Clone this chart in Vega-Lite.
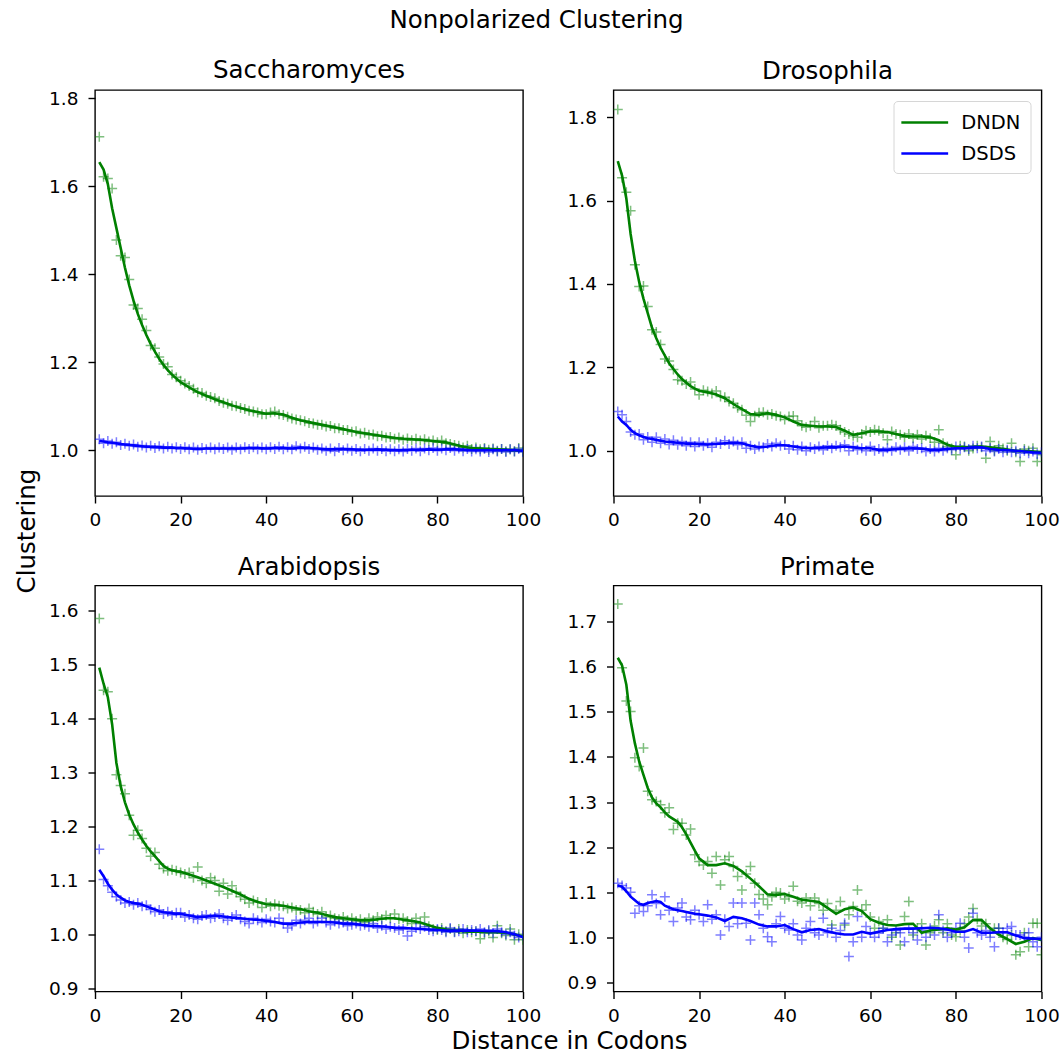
{
"$schema":"https://vega.github.io/schema/vega-lite/v6.json",
"padding":{"left":13,"top":7,"right":0,"bottom":0},
"background":"white",
"title":{"text":"Nonpolarized Clustering","fontSize":24.5,"font":"DejaVu Sans","fontWeight":"normal","color":"black","anchor":"middle","frame":"bounds","baseline":"top","offset":24.5},
"datasets":{
"sac":[
{"x":1,"dn":1.713,"ds":1.025,"ln":1.655,"ls":1.021},{"x":2,"dn":1.622,"ds":1.016,"ln":1.638,"ls":1.02},{"x":3,"dn":1.618,"ds":1.021,"ln":1.605,"ls":1.018},{"x":4,"dn":1.595,"ds":1.015,"ln":1.55,"ls":1.017},{"x":5,"dn":1.478,"ds":1.018,"ln":1.505,"ls":1.016},{"x":6,"dn":1.442,"ds":1.012,"ln":1.46,"ls":1.014},{"x":7,"dn":1.438,"ds":1.015,"ln":1.415,"ls":1.013},{"x":8,"dn":1.388,"ds":1.01,"ln":1.375,"ls":1.012},{"x":9,"dn":1.33,"ds":1.013,"ln":1.34,"ls":1.011},{"x":10,"dn":1.322,"ds":1.008,"ln":1.31,"ls":1.01},
{"x":11,"dn":1.298,"ds":1.011,"ln":1.285,"ls":1.009},{"x":12,"dn":1.272,"ds":1.006,"ln":1.262,"ls":1.008},{"x":13,"dn":1.238,"ds":1.01,"ln":1.242,"ls":1.008},{"x":14,"dn":1.232,"ds":1.005,"ln":1.224,"ls":1.007},{"x":15,"dn":1.212,"ds":1.009,"ln":1.208,"ls":1.007},{"x":16,"dn":1.196,"ds":1.004,"ln":1.194,"ls":1.006},{"x":17,"dn":1.19,"ds":1.008,"ln":1.182,"ls":1.006},{"x":18,"dn":1.172,"ds":1.004,"ln":1.172,"ls":1.006},{"x":19,"dn":1.166,"ds":1.007,"ln":1.163,"ls":1.005},{"x":20,"dn":1.158,"ds":1.003,"ln":1.155,"ls":1.005},
{"x":21,"dn":1.152,"ds":1.007},{"x":22,"dn":1.146,"ds":1.002,"ln":1.143,"ls":1.004},{"x":23,"dn":1.14,"ds":1.006},{"x":24,"dn":1.132,"ds":1.001,"ln":1.132,"ls":1.003},{"x":25,"dn":1.13,"ds":1.005},{"x":26,"dn":1.124,"ds":1.002,"ln":1.124,"ls":1.004},{"x":27,"dn":1.121,"ds":1.006},{"x":28,"dn":1.118,"ds":1.002,"ln":1.116,"ls":1.004},{"x":29,"dn":1.112,"ds":1.006},{"x":30,"dn":1.108,"ds":1.003,"ln":1.109,"ls":1.004},
{"x":31,"dn":1.106,"ds":1.006},{"x":32,"dn":1.101,"ds":1.001,"ln":1.102,"ls":1.004},{"x":33,"dn":1.1,"ds":1.006},{"x":34,"dn":1.096,"ds":1.002,"ln":1.096,"ls":1.004},{"x":35,"dn":1.094,"ds":1.007},{"x":36,"dn":1.09,"ds":1.003,"ln":1.091,"ls":1.005},{"x":37,"dn":1.088,"ds":1.007},{"x":38,"dn":1.086,"ds":1.002,"ln":1.087,"ls":1.005},{"x":39,"dn":1.082,"ds":1.006},{"x":40,"dn":1.082,"ds":1.002,"ln":1.083,"ls":1.004},
{"x":41,"dn":1.086,"ds":1.007},{"x":42,"dn":1.088,"ds":1.003,"ln":1.084,"ls":1.005},{"x":43,"dn":1.082,"ds":1.008},{"x":44,"dn":1.08,"ds":1.002,"ln":1.081,"ls":1.005},{"x":45,"dn":1.076,"ds":1.007},{"x":46,"dn":1.072,"ds":1.002,"ln":1.074,"ls":1.004},{"x":47,"dn":1.07,"ds":1.009},{"x":48,"dn":1.068,"ds":1.004,"ln":1.068,"ls":1.006},{"x":49,"dn":1.066,"ds":1.008},{"x":50,"dn":1.062,"ds":1.003,"ln":1.064,"ls":1.005},
{"x":51,"dn":1.061,"ds":1.006},{"x":52,"dn":1.058,"ds":1.001,"ln":1.06,"ls":1.004},{"x":53,"dn":1.058,"ds":1.004},{"x":54,"dn":1.054,"ds":0.999,"ln":1.056,"ls":1.002},{"x":55,"dn":1.055,"ds":1.004},{"x":56,"dn":1.05,"ds":0.998,"ln":1.052,"ls":1.002},{"x":57,"dn":1.05,"ds":1.005},{"x":58,"dn":1.046,"ds":1.0,"ln":1.048,"ls":1.003},{"x":59,"dn":1.046,"ds":1.004},{"x":60,"dn":1.042,"ds":0.999,"ln":1.044,"ls":1.002},
{"x":61,"dn":1.043,"ds":1.003},{"x":62,"dn":1.038,"ds":0.998,"ln":1.04,"ls":1.001},{"x":63,"dn":1.04,"ds":1.003},{"x":64,"dn":1.035,"ds":0.999,"ln":1.037,"ls":1.001},{"x":65,"dn":1.036,"ds":1.004},{"x":66,"dn":1.032,"ds":0.999,"ln":1.034,"ls":1.002},{"x":67,"dn":1.033,"ds":1.003},{"x":68,"dn":1.029,"ds":0.998,"ln":1.031,"ls":1.001},{"x":69,"dn":1.03,"ds":1.002},{"x":70,"dn":1.026,"ds":0.998,"ln":1.028,"ls":1.0},
{"x":71,"dn":1.029,"ds":1.002},{"x":72,"dn":1.024,"ds":0.997,"ln":1.026,"ls":1.0},{"x":73,"dn":1.027,"ds":1.003},{"x":74,"dn":1.023,"ds":0.999,"ln":1.025,"ls":1.001},{"x":75,"dn":1.026,"ds":1.004},{"x":76,"dn":1.022,"ds":0.998,"ln":1.024,"ls":1.001},{"x":77,"dn":1.025,"ds":1.004},{"x":78,"dn":1.02,"ds":1.0,"ln":1.022,"ls":1.002},{"x":79,"dn":1.022,"ds":1.005},{"x":80,"dn":1.018,"ds":0.999,"ln":1.02,"ls":1.001},
{"x":81,"dn":1.022,"ds":1.004},{"x":82,"dn":1.016,"ds":1.0,"ln":1.018,"ls":1.002},{"x":83,"dn":1.014,"ds":1.005},{"x":84,"dn":1.012,"ds":0.999,"ln":1.013,"ls":1.002},{"x":85,"dn":1.01,"ds":1.004},{"x":86,"dn":1.006,"ds":0.998,"ln":1.008,"ls":1.001},{"x":87,"dn":1.01,"ds":1.003},{"x":88,"dn":1.003,"ds":0.997,"ln":1.005,"ls":1.0},{"x":89,"dn":1.006,"ds":1.002},{"x":90,"dn":1.002,"ds":0.997,"ln":1.004,"ls":1.0},
{"x":91,"dn":1.005,"ds":1.003},{"x":92,"dn":1.001,"ds":0.996,"ln":1.003,"ls":1.0},{"x":93,"dn":1.004,"ds":1.002},{"x":94,"dn":0.999,"ds":0.997,"ln":1.002,"ls":1.0},{"x":95,"dn":1.003,"ds":1.003},{"x":96,"dn":0.998,"ds":0.996,"ln":1.001,"ls":1.0},{"x":97,"dn":1.002,"ds":1.002},{"x":98,"dn":0.998,"ds":0.997,"ln":1.0,"ls":1.0},{"x":99,"dn":1.005,"ds":1.003},{"x":100,"dn":0.997,"ds":0.996,"ln":0.999,"ls":0.999}
],
"dro":[
{"x":1,"dn":1.819,"ds":1.094,"ln":1.695,"ls":1.082},{"x":2,"dn":1.655,"ds":1.086,"ln":1.66,"ls":1.07},{"x":3,"dn":1.62,"ds":1.07,"ln":1.605,"ls":1.062},{"x":4,"dn":1.576,"ds":1.045,"ln":1.52,"ls":1.05},{"x":5,"dn":1.446,"ds":1.038,"ln":1.455,"ls":1.042},{"x":6,"dn":1.394,"ds":1.04,"ln":1.405,"ls":1.037},{"x":7,"dn":1.395,"ds":1.026,"ln":1.365,"ls":1.033},{"x":8,"dn":1.346,"ds":1.033,"ln":1.33,"ls":1.03},{"x":9,"dn":1.29,"ds":1.02,"ln":1.295,"ls":1.028},{"x":10,"dn":1.285,"ds":1.032,"ln":1.27,"ls":1.026},
{"x":11,"dn":1.255,"ds":1.018,"ln":1.247,"ls":1.024},{"x":12,"dn":1.22,"ds":1.028,"ln":1.228,"ls":1.022},{"x":13,"dn":1.215,"ds":1.015,"ln":1.21,"ls":1.021},{"x":14,"dn":1.195,"ds":1.025,"ln":1.196,"ls":1.02},{"x":15,"dn":1.17,"ds":1.014,"ln":1.183,"ls":1.019},{"x":16,"dn":1.168,"ds":1.022,"ln":1.172,"ls":1.018},{"x":17,"dn":1.16,"ds":1.012,"ln":1.163,"ls":1.017},{"x":18,"dn":1.165,"ds":1.02,"ln":1.155,"ls":1.017},{"x":19,"dn":1.148,"ds":1.01,"ln":1.149,"ls":1.016},{"x":20,"dn":1.134,"ds":1.02,"ln":1.144,"ls":1.016},
{"x":21,"dn":1.145,"ds":1.012},{"x":22,"dn":1.142,"ds":1.018,"ln":1.14,"ls":1.015},{"x":23,"dn":1.137,"ds":1.008},{"x":24,"dn":1.143,"ds":1.02,"ln":1.135,"ls":1.016},{"x":25,"dn":1.13,"ds":1.016},{"x":26,"dn":1.128,"ds":1.024,"ln":1.126,"ls":1.018},{"x":27,"dn":1.118,"ds":1.016},{"x":28,"dn":1.114,"ds":1.022,"ln":1.112,"ls":1.019},{"x":29,"dn":1.103,"ds":1.014},{"x":30,"dn":1.098,"ds":1.02,"ln":1.1,"ls":1.018},
{"x":31,"dn":1.085,"ds":1.006},{"x":32,"dn":1.07,"ds":1.012,"ln":1.088,"ls":1.012},{"x":33,"dn":1.084,"ds":1.004},{"x":34,"dn":1.091,"ds":1.01,"ln":1.086,"ls":1.008},{"x":35,"dn":1.092,"ds":1.008},{"x":36,"dn":1.086,"ds":1.016,"ln":1.09,"ls":1.01},{"x":37,"dn":1.088,"ds":1.01},{"x":38,"dn":1.084,"ds":1.018,"ln":1.086,"ls":1.013},{"x":39,"dn":1.082,"ds":1.012},{"x":40,"dn":1.075,"ds":1.014,"ln":1.08,"ls":1.013},
{"x":41,"dn":1.082,"ds":1.004},{"x":42,"dn":1.083,"ds":1.012,"ln":1.07,"ls":1.01},{"x":43,"dn":1.072,"ds":1.002},{"x":44,"dn":1.06,"ds":1.01,"ln":1.062,"ls":1.007},{"x":45,"dn":1.056,"ds":1.0},{"x":46,"dn":1.06,"ds":1.008,"ln":1.06,"ls":1.006},{"x":47,"dn":1.07,"ds":1.004},{"x":48,"dn":1.055,"ds":1.01,"ln":1.058,"ls":1.007},{"x":49,"dn":1.06,"ds":1.002},{"x":50,"dn":1.06,"ds":1.012,"ln":1.058,"ls":1.008},
{"x":51,"dn":1.062,"ds":1.006},{"x":52,"dn":1.06,"ds":1.012,"ln":1.057,"ls":1.008},{"x":53,"dn":1.05,"ds":1.008},{"x":54,"dn":1.045,"ds":1.014,"ln":1.048,"ls":1.01},{"x":55,"dn":1.04,"ds":1.0},{"x":56,"dn":1.036,"ds":1.01,"ln":1.038,"ls":1.008},{"x":57,"dn":1.032,"ds":1.002},{"x":58,"dn":1.04,"ds":1.006,"ln":1.042,"ls":1.006},{"x":59,"dn":1.048,"ds":1.0},{"x":60,"dn":1.045,"ds":1.01,"ln":1.046,"ls":1.006},
{"x":61,"dn":1.05,"ds":1.0},{"x":62,"dn":1.048,"ds":1.004,"ln":1.046,"ls":1.002},{"x":63,"dn":1.042,"ds":0.998},{"x":64,"dn":1.026,"ds":1.006,"ln":1.045,"ls":1.002},{"x":65,"dn":1.046,"ds":1.0},{"x":66,"dn":1.04,"ds":1.008,"ln":1.04,"ls":1.004},{"x":67,"dn":1.038,"ds":1.002},{"x":68,"dn":1.032,"ds":1.008,"ln":1.035,"ls":1.005},{"x":69,"dn":1.04,"ds":1.0},{"x":70,"dn":1.03,"ds":1.01,"ln":1.034,"ls":1.006},
{"x":71,"dn":1.038,"ds":1.004},{"x":72,"dn":1.028,"ds":1.006,"ln":1.034,"ls":1.005},{"x":73,"dn":1.036,"ds":0.998},{"x":74,"dn":1.03,"ds":1.004,"ln":1.032,"ls":1.002},{"x":75,"dn":1.02,"ds":0.998},{"x":76,"dn":1.05,"ds":1.006,"ln":1.025,"ls":1.002},{"x":77,"dn":1.018,"ds":1.0},{"x":78,"dn":1.01,"ds":1.006,"ln":1.014,"ls":1.004},{"x":79,"dn":1.005,"ds":1.002},{"x":80,"dn":0.99,"ds":1.01,"ln":1.009,"ls":1.006},
{"x":81,"dn":1.012,"ds":1.004},{"x":82,"dn":1.01,"ds":1.008,"ln":1.008,"ls":1.006},{"x":83,"dn":1.0,"ds":1.004},{"x":84,"dn":1.005,"ds":1.012,"ln":1.009,"ls":1.008},{"x":85,"dn":1.012,"ds":1.006},{"x":86,"dn":1.008,"ds":1.01,"ln":1.01,"ls":1.008},{"x":87,"dn":0.982,"ds":1.0},{"x":88,"dn":1.022,"ds":1.006,"ln":1.008,"ls":1.004},{"x":89,"dn":1.0,"ds":0.998},{"x":90,"dn":1.012,"ds":1.004,"ln":1.006,"ls":1.002},
{"x":91,"dn":1.005,"ds":0.996},{"x":92,"dn":1.0,"ds":1.002,"ln":1.003,"ls":1.001},{"x":93,"dn":1.018,"ds":0.996},{"x":94,"dn":0.996,"ds":1.0,"ln":1.0,"ls":1.0},{"x":95,"dn":0.974,"ds":0.994},{"x":96,"dn":1.004,"ds":1.0,"ln":0.999,"ls":0.998},{"x":97,"dn":1.0,"ds":0.994},{"x":98,"dn":1.006,"ds":0.998,"ln":0.998,"ls":0.996},{"x":99,"dn":0.974,"ds":0.992},{"x":100,"dn":0.99,"ds":0.996,"ln":0.997,"ls":0.995}
],
"ara":[
{"x":1,"dn":1.586,"ds":1.158,"ln":1.495,"ls":1.12},{"x":2,"dn":1.453,"ds":1.102,"ln":1.465,"ls":1.108},{"x":3,"dn":1.45,"ds":1.09,"ln":1.44,"ls":1.094},{"x":4,"dn":1.4,"ds":1.078,"ln":1.39,"ls":1.083},{"x":5,"dn":1.296,"ds":1.07,"ln":1.318,"ls":1.074},{"x":6,"dn":1.276,"ds":1.064,"ln":1.275,"ls":1.068},{"x":7,"dn":1.261,"ds":1.058,"ln":1.245,"ls":1.063},{"x":8,"dn":1.221,"ds":1.06,"ln":1.222,"ls":1.06},{"x":9,"dn":1.184,"ds":1.055,"ln":1.204,"ls":1.058},{"x":10,"dn":1.193,"ds":1.058,"ln":1.189,"ls":1.057},
{"x":11,"dn":1.178,"ds":1.052,"ln":1.176,"ls":1.055},{"x":12,"dn":1.16,"ds":1.054,"ln":1.164,"ls":1.052},{"x":13,"dn":1.145,"ds":1.046,"ln":1.154,"ls":1.049},{"x":14,"dn":1.152,"ds":1.042,"ln":1.145,"ls":1.046},{"x":15,"dn":1.13,"ds":1.045,"ln":1.136,"ls":1.043},{"x":16,"dn":1.122,"ds":1.038,"ln":1.127,"ls":1.041},{"x":17,"dn":1.118,"ds":1.042,"ln":1.122,"ls":1.04},{"x":18,"dn":1.12,"ds":1.036,"ln":1.119,"ls":1.039},{"x":19,"dn":1.118,"ds":1.04,"ln":1.117,"ls":1.038},{"x":20,"dn":1.115,"ds":1.04,"ln":1.116,"ls":1.038},
{"x":21,"dn":1.112,"ds":1.032},{"x":22,"dn":1.115,"ds":1.036,"ln":1.111,"ls":1.035},{"x":23,"dn":1.105,"ds":1.03},{"x":24,"dn":1.125,"ds":1.028,"ln":1.106,"ls":1.032},{"x":25,"dn":1.1,"ds":1.034},{"x":26,"dn":1.095,"ds":1.036,"ln":1.1,"ls":1.033},{"x":27,"dn":1.105,"ds":1.03},{"x":28,"dn":1.1,"ds":1.032,"ln":1.094,"ls":1.035},{"x":29,"dn":1.08,"ds":1.038},{"x":30,"dn":1.095,"ds":1.03,"ln":1.088,"ls":1.033},
{"x":31,"dn":1.075,"ds":1.026},{"x":32,"dn":1.09,"ds":1.032,"ln":1.081,"ls":1.031},{"x":33,"dn":1.078,"ds":1.036},{"x":34,"dn":1.07,"ds":1.028,"ln":1.074,"ls":1.03},{"x":35,"dn":1.065,"ds":1.024},{"x":36,"dn":1.058,"ds":1.02,"ln":1.066,"ls":1.028},{"x":37,"dn":1.063,"ds":1.03},{"x":38,"dn":1.06,"ds":1.026,"ln":1.06,"ls":1.027},{"x":39,"dn":1.05,"ds":1.022},{"x":40,"dn":1.058,"ds":1.028,"ln":1.056,"ls":1.025},
{"x":41,"dn":1.052,"ds":1.024},{"x":42,"dn":1.056,"ds":1.022,"ln":1.055,"ls":1.023},{"x":43,"dn":1.053,"ds":1.03},{"x":44,"dn":1.052,"ds":1.02,"ln":1.053,"ls":1.02},{"x":45,"dn":1.048,"ds":1.012},{"x":46,"dn":1.05,"ds":1.016,"ln":1.05,"ls":1.02},{"x":47,"dn":1.045,"ds":1.026},{"x":48,"dn":1.045,"ds":1.02,"ln":1.047,"ls":1.022},{"x":49,"dn":1.04,"ds":1.026},{"x":50,"dn":1.048,"ds":1.03,"ln":1.043,"ls":1.023},
{"x":51,"dn":1.042,"ds":1.02},{"x":52,"dn":1.038,"ds":1.024,"ln":1.04,"ls":1.023},{"x":53,"dn":1.042,"ds":1.03},{"x":54,"dn":1.032,"ds":1.022,"ln":1.036,"ls":1.023},{"x":55,"dn":1.035,"ds":1.018},{"x":56,"dn":1.03,"ds":1.024,"ln":1.032,"ls":1.022},{"x":57,"dn":1.028,"ds":1.02},{"x":58,"dn":1.032,"ds":1.022,"ln":1.03,"ls":1.02},{"x":59,"dn":1.026,"ds":1.016},{"x":60,"dn":1.03,"ds":1.018,"ln":1.028,"ls":1.02},
{"x":61,"dn":1.025,"ds":1.02},{"x":62,"dn":1.028,"ds":1.016,"ln":1.026,"ls":1.018},{"x":63,"dn":1.022,"ds":1.018},{"x":64,"dn":1.03,"ds":1.014,"ln":1.026,"ls":1.016},{"x":65,"dn":1.026,"ds":1.02},{"x":66,"dn":1.032,"ds":1.012,"ln":1.028,"ls":1.015},{"x":67,"dn":1.028,"ds":1.016},{"x":68,"dn":1.035,"ds":1.01,"ln":1.03,"ls":1.014},{"x":69,"dn":1.03,"ds":1.014},{"x":70,"dn":1.038,"ds":1.012,"ln":1.03,"ls":1.012},
{"x":71,"dn":1.028,"ds":1.008},{"x":72,"dn":1.03,"ds":1.01,"ln":1.027,"ls":1.012},{"x":73,"dn":1.025,"ds":0.997},{"x":74,"dn":1.02,"ds":1.006,"ln":1.025,"ls":1.011},{"x":75,"dn":1.03,"ds":1.012},{"x":76,"dn":1.02,"ds":1.01,"ln":1.022,"ls":1.01},{"x":77,"dn":1.032,"ds":1.014},{"x":78,"dn":1.015,"ds":1.008,"ln":1.017,"ls":1.009},{"x":79,"dn":1.01,"ds":1.006},{"x":80,"dn":1.008,"ds":1.01,"ln":1.012,"ls":1.008},
{"x":81,"dn":1.012,"ds":1.008},{"x":82,"dn":1.006,"ds":1.004,"ln":1.009,"ls":1.007},{"x":83,"dn":1.01,"ds":1.012},{"x":84,"dn":1.005,"ds":1.004,"ln":1.007,"ls":1.007},{"x":85,"dn":1.01,"ds":1.006},{"x":86,"dn":1.002,"ds":1.01,"ln":1.006,"ls":1.007},{"x":87,"dn":1.008,"ds":1.004},{"x":88,"dn":1.004,"ds":1.008,"ln":1.005,"ls":1.007},{"x":89,"dn":1.006,"ds":1.006},{"x":90,"dn":0.992,"ds":1.01,"ln":1.005,"ls":1.007},
{"x":91,"dn":1.002,"ds":1.004},{"x":92,"dn":1.006,"ds":1.008,"ln":1.004,"ls":1.006},{"x":93,"dn":0.994,"ds":1.002},{"x":94,"dn":1.016,"ds":1.01,"ln":1.004,"ls":1.006},{"x":95,"dn":1.002,"ds":1.004},{"x":96,"dn":0.998,"ds":1.0,"ln":1.003,"ls":1.004},{"x":97,"dn":1.01,"ds":1.004},{"x":98,"dn":0.99,"ds":0.998,"ln":1.0,"ls":1.0},{"x":99,"dn":1.0,"ds":0.994},{"x":100,"dn":0.99,"ds":0.998,"ln":0.996,"ls":0.995}
],
"pri":[
{"x":1,"dn":1.739,"ds":1.12,"ln":1.62,"ls":1.115},{"x":2,"dn":1.598,"ds":1.115,"ln":1.603,"ls":1.112},{"x":3,"dn":1.524,"ds":1.109,"ln":1.56,"ls":1.102},{"x":4,"dn":1.501,"ds":1.1,"ln":1.48,"ls":1.09},{"x":5,"dn":1.398,"ds":1.053,"ln":1.43,"ls":1.082},{"x":6,"dn":1.379,"ds":1.07,"ln":1.39,"ls":1.074},{"x":7,"dn":1.42,"ds":1.057,"ln":1.36,"ls":1.072},{"x":8,"dn":1.324,"ds":1.07,"ln":1.331,"ls":1.076},{"x":9,"dn":1.305,"ds":1.094,"ln":1.31,"ls":1.078},{"x":10,"dn":1.301,"ds":1.075,"ln":1.297,"ls":1.08},
{"x":11,"dn":1.294,"ds":1.05,"ln":1.288,"ls":1.078},{"x":12,"dn":1.276,"ds":1.09,"ln":1.277,"ls":1.07},{"x":13,"dn":1.287,"ds":1.06,"ln":1.268,"ls":1.066},{"x":14,"dn":1.239,"ds":1.035,"ln":1.262,"ls":1.062},{"x":15,"dn":1.253,"ds":1.065,"ln":1.256,"ls":1.06},{"x":16,"dn":1.253,"ds":1.076,"ln":1.244,"ls":1.058},{"x":17,"dn":1.227,"ds":1.045,"ln":1.228,"ls":1.056},{"x":18,"dn":1.24,"ds":1.039,"ln":1.21,"ls":1.054},{"x":19,"dn":1.183,"ds":1.06,"ln":1.192,"ls":1.052},{"x":20,"dn":1.168,"ds":1.05,"ln":1.175,"ls":1.051},
{"x":21,"dn":1.16,"ds":1.035},{"x":22,"dn":1.168,"ds":1.072,"ln":1.16,"ls":1.048},{"x":23,"dn":1.142,"ds":1.04},{"x":24,"dn":1.179,"ds":1.05,"ln":1.16,"ls":1.044},{"x":25,"dn":1.116,"ds":1.005},{"x":26,"dn":1.172,"ds":1.04,"ln":1.164,"ls":1.036},{"x":27,"dn":1.179,"ds":1.024},{"x":28,"dn":1.157,"ds":1.076,"ln":1.158,"ls":1.045},{"x":29,"dn":1.135,"ds":1.03},{"x":30,"dn":1.105,"ds":1.076,"ln":1.146,"ls":1.042},
{"x":31,"dn":1.14,"ds":1.031},{"x":32,"dn":1.157,"ds":0.994,"ln":1.13,"ls":1.036},{"x":33,"dn":1.12,"ds":1.076},{"x":34,"dn":1.095,"ds":1.05,"ln":1.113,"ls":1.028},{"x":35,"dn":1.085,"ds":1.02},{"x":36,"dn":1.072,"ds":1.001,"ln":1.095,"ls":1.024},{"x":37,"dn":1.09,"ds":0.99},{"x":38,"dn":1.1,"ds":1.03,"ln":1.094,"ls":1.024},{"x":39,"dn":1.098,"ds":1.046},{"x":40,"dn":1.085,"ds":1.02,"ln":1.096,"ls":1.027},
{"x":41,"dn":1.09,"ds":1.016},{"x":42,"dn":1.113,"ds":1.03,"ln":1.09,"ls":1.018},{"x":43,"dn":1.08,"ds":1.005},{"x":44,"dn":1.076,"ds":0.994,"ln":1.083,"ls":1.011},{"x":45,"dn":1.087,"ds":1.02},{"x":46,"dn":1.07,"ds":1.035,"ln":1.081,"ls":1.016},{"x":47,"dn":1.087,"ds":1.01},{"x":48,"dn":1.075,"ds":1.005,"ln":1.078,"ls":1.018},{"x":49,"dn":1.06,"ds":1.042},{"x":50,"dn":1.075,"ds":1.01,"ln":1.065,"ls":1.013},
{"x":51,"dn":1.027,"ds":1.02},{"x":52,"dn":1.06,"ds":1.0,"ln":1.052,"ls":1.009},{"x":53,"dn":1.079,"ds":1.015},{"x":54,"dn":1.027,"ds":1.031,"ln":1.062,"ls":1.006},{"x":55,"dn":1.05,"ds":0.957},{"x":56,"dn":1.068,"ds":0.99,"ln":1.066,"ls":1.006},{"x":57,"dn":1.105,"ds":1.046},{"x":58,"dn":1.06,"ds":1.0,"ln":1.058,"ls":1.012},{"x":59,"dn":1.072,"ds":1.024},{"x":60,"dn":1.045,"ds":1.01,"ln":1.04,"ls":1.008},
{"x":61,"dn":1.02,"ds":1.0},{"x":62,"dn":1.035,"ds":1.009,"ln":1.032,"ls":1.012},{"x":63,"dn":1.02,"ds":1.02},{"x":64,"dn":1.039,"ds":0.99,"ln":1.027,"ls":1.016},{"x":65,"dn":1.0,"ds":1.005},{"x":66,"dn":1.01,"ds":1.015,"ln":1.026,"ls":1.018},{"x":67,"dn":0.983,"ds":1.01},{"x":68,"dn":1.046,"ds":0.99,"ln":1.029,"ls":1.019},{"x":69,"dn":1.079,"ds":1.02},{"x":70,"dn":1.005,"ds":1.01,"ln":1.03,"ls":1.019},
{"x":71,"dn":1.02,"ds":0.994},{"x":72,"dn":1.03,"ds":1.015,"ln":1.01,"ls":1.02},{"x":73,"dn":0.983,"ds":1.0},{"x":74,"dn":1.01,"ds":1.02,"ln":1.015,"ls":1.021},{"x":75,"dn":1.025,"ds":1.005},{"x":76,"dn":1.039,"ds":1.05,"ln":1.017,"ls":1.02},{"x":77,"dn":1.01,"ds":1.015},{"x":78,"dn":1.03,"ds":1.0,"ln":1.02,"ls":1.017},{"x":79,"dn":1.005,"ds":1.01},{"x":80,"dn":1.001,"ds":1.02,"ln":1.017,"ls":1.012},
{"x":81,"dn":1.015,"ds":1.031},{"x":82,"dn":1.03,"ds":1.0,"ln":1.022,"ls":1.012},{"x":83,"dn":1.045,"ds":0.976},{"x":84,"dn":1.064,"ds":1.053,"ln":1.038,"ls":1.018},{"x":85,"dn":1.04,"ds":1.01},{"x":86,"dn":1.025,"ds":1.005,"ln":1.038,"ls":1.01},{"x":87,"dn":1.03,"ds":1.015},{"x":88,"dn":1.01,"ds":1.0,"ln":1.02,"ls":1.01},{"x":89,"dn":1.02,"ds":0.979},{"x":90,"dn":1.02,"ds":1.02,"ln":1.006,"ls":1.011},
{"x":91,"dn":1.0,"ds":1.01},{"x":92,"dn":0.995,"ds":1.02,"ln":0.996,"ls":1.011},{"x":93,"dn":1.005,"ds":1.024},{"x":94,"dn":0.961,"ds":1.005,"ln":0.985,"ls":1.004},{"x":95,"dn":0.968,"ds":1.005},{"x":96,"dn":1.01,"ds":1.0,"ln":0.99,"ls":0.998},{"x":97,"dn":0.979,"ds":1.01},{"x":98,"dn":1.031,"ds":0.99,"ln":0.998,"ls":0.997},{"x":99,"dn":1.031,"ds":0.979},{"x":100,"dn":0.961,"ds":1.0,"ln":0.994,"ls":0.996}
]
},
"columns":2,
"bounds":"flush",
"spacing":{"row":89.5,"column":90.5},
"resolve":{"scale":{"color":"independent"},"legend":{"color":"independent"}},
"concat":[
{"title":{"text":"Saccharomyces","baseline":"top","offset":5.5},"width":428,"height":406,"data":{"name":"sac"},
"encoding":{"x":{"field":"x","type":"quantitative","scale":{"domain":[0,100],"nice":false,"zero":false},"axis":{"title":null,"values":[0,20,40,60,80,100]}}},
"layer":[
{"mark":{"type":"point","shape":"M-1,0L1,0M0,-1L0,1","filled":false,"size":100,"strokeWidth":1.5,"stroke":"#008000","opacity":0.5,"clip":true},"encoding":{"y":{"field":"dn","type":"quantitative","scale":{"domain":[0.896,1.819],"nice":false,"zero":false},"axis":{"title":"Clustering","titleX":-68,"titleY":440.5,"titleAngle":270,"titleAlign":"center","titleBaseline":"middle","values":[1.0,1.2,1.4,1.6,1.8],"format":".1f"}}}},
{"mark":{"type":"point","shape":"M-1,0L1,0M0,-1L0,1","filled":false,"size":100,"strokeWidth":1.5,"stroke":"#0000ff","opacity":0.5,"clip":true},"encoding":{"y":{"field":"ds","type":"quantitative","scale":{"domain":[0.896,1.819],"nice":false,"zero":false},"axis":{"title":"Clustering","titleX":-68,"titleY":440.5,"titleAngle":270,"titleAlign":"center","titleBaseline":"middle","values":[1.0,1.2,1.4,1.6,1.8],"format":".1f"}}}},
{"transform":[{"filter":"isValid(datum.ln)"}],"mark":{"type":"line","stroke":"#008000","strokeWidth":2.6,"clip":true},"encoding":{"y":{"field":"ln","type":"quantitative","scale":{"domain":[0.896,1.819],"nice":false,"zero":false},"axis":{"title":"Clustering","titleX":-68,"titleY":440.5,"titleAngle":270,"titleAlign":"center","titleBaseline":"middle","values":[1.0,1.2,1.4,1.6,1.8],"format":".1f"}}}},
{"transform":[{"filter":"isValid(datum.ls)"}],"mark":{"type":"line","stroke":"#0000ff","strokeWidth":2.6,"clip":true},"encoding":{"y":{"field":"ls","type":"quantitative","scale":{"domain":[0.896,1.819],"nice":false,"zero":false},"axis":{"title":"Clustering","titleX":-68,"titleY":440.5,"titleAngle":270,"titleAlign":"center","titleBaseline":"middle","values":[1.0,1.2,1.4,1.6,1.8],"format":".1f"}}}}
]},
{"title":{"text":"Drosophila","baseline":"top","offset":5.5},"width":428,"height":406,"data":{"name":"dro"},
"encoding":{"x":{"field":"x","type":"quantitative","scale":{"domain":[0,100],"nice":false,"zero":false},"axis":{"title":null,"values":[0,20,40,60,80,100]}}},
"layer":[
{"mark":{"type":"point","shape":"M-1,0L1,0M0,-1L0,1","filled":false,"size":100,"strokeWidth":1.5,"stroke":"#008000","opacity":0.5,"clip":true},"encoding":{"y":{"field":"dn","type":"quantitative","scale":{"domain":[0.8913,1.8655],"nice":false,"zero":false},"axis":{"title":null,"values":[1.0,1.2,1.4,1.6,1.8],"format":".1f"}}}},
{"mark":{"type":"point","shape":"M-1,0L1,0M0,-1L0,1","filled":false,"size":100,"strokeWidth":1.5,"stroke":"#0000ff","opacity":0.5,"clip":true},"encoding":{"y":{"field":"ds","type":"quantitative","scale":{"domain":[0.8913,1.8655],"nice":false,"zero":false},"axis":{"title":null,"values":[1.0,1.2,1.4,1.6,1.8],"format":".1f"}}}},
{"transform":[{"filter":"isValid(datum.ln)"}],"mark":{"type":"line","strokeWidth":2.6,"clip":true},"encoding":{"y":{"field":"ln","type":"quantitative","scale":{"domain":[0.8913,1.8655],"nice":false,"zero":false},"axis":{"title":null,"values":[1.0,1.2,1.4,1.6,1.8],"format":".1f"}},
"color":{"datum":"DNDN","type":"nominal","scale":{"domain":["DNDN","DSDS"],"range":["#008000","#0000ff"]},"legend":{"orient":"top-right","offset":11,"title":null,"symbolType":"M-2.4,0L2.4,0","symbolSize":380,"symbolOffset":9.75,"symbolStrokeWidth":2.7,"labelFont":"DejaVu Sans","labelFontSize":19.5,"labelColor":"black","labelOffset":25,"padding":10,"rowPadding":10,"strokeColor":"#d6d6d6","fillColor":"white","cornerRadius":4}}}},
{"transform":[{"filter":"isValid(datum.ls)"}],"mark":{"type":"line","strokeWidth":2.6,"clip":true},"encoding":{"y":{"field":"ls","type":"quantitative","scale":{"domain":[0.8913,1.8655],"nice":false,"zero":false},"axis":{"title":null,"values":[1.0,1.2,1.4,1.6,1.8],"format":".1f"}},
"color":{"datum":"DSDS","type":"nominal","scale":{"domain":["DNDN","DSDS"],"range":["#008000","#0000ff"]},"legend":{"orient":"top-right","offset":11,"title":null,"symbolType":"M-2.4,0L2.4,0","symbolSize":380,"symbolOffset":9.75,"symbolStrokeWidth":2.7,"labelFont":"DejaVu Sans","labelFontSize":19.5,"labelColor":"black","labelOffset":25,"padding":10,"rowPadding":10,"strokeColor":"#d6d6d6","fillColor":"white","cornerRadius":4}}}}
]},
{"title":{"text":"Arabidopsis","baseline":"top","offset":5.5},"width":428,"height":406,"data":{"name":"ara"},
"encoding":{"x":{"field":"x","type":"quantitative","scale":{"domain":[0,100],"nice":false,"zero":false},"axis":{"title":"Distance in Codons","titleX":474,"titleY":57,"titleAlign":"center","titleBaseline":"alphabetic","values":[0,20,40,60,80,100]}}},
"layer":[
{"mark":{"type":"point","shape":"M-1,0L1,0M0,-1L0,1","filled":false,"size":100,"strokeWidth":1.5,"stroke":"#008000","opacity":0.5,"clip":true},"encoding":{"y":{"field":"dn","type":"quantitative","scale":{"domain":[0.894,1.6473],"nice":false,"zero":false},"axis":{"title":null,"values":[0.9,1.0,1.1,1.2,1.3,1.4,1.5,1.6],"format":".1f"}}}},
{"mark":{"type":"point","shape":"M-1,0L1,0M0,-1L0,1","filled":false,"size":100,"strokeWidth":1.5,"stroke":"#0000ff","opacity":0.5,"clip":true},"encoding":{"y":{"field":"ds","type":"quantitative","scale":{"domain":[0.894,1.6473],"nice":false,"zero":false},"axis":{"title":null,"values":[0.9,1.0,1.1,1.2,1.3,1.4,1.5,1.6],"format":".1f"}}}},
{"transform":[{"filter":"isValid(datum.ln)"}],"mark":{"type":"line","stroke":"#008000","strokeWidth":2.6,"clip":true},"encoding":{"y":{"field":"ln","type":"quantitative","scale":{"domain":[0.894,1.6473],"nice":false,"zero":false},"axis":{"title":null,"values":[0.9,1.0,1.1,1.2,1.3,1.4,1.5,1.6],"format":".1f"}}}},
{"transform":[{"filter":"isValid(datum.ls)"}],"mark":{"type":"line","stroke":"#0000ff","strokeWidth":2.6,"clip":true},"encoding":{"y":{"field":"ls","type":"quantitative","scale":{"domain":[0.894,1.6473],"nice":false,"zero":false},"axis":{"title":null,"values":[0.9,1.0,1.1,1.2,1.3,1.4,1.5,1.6],"format":".1f"}}}}
]},
{"title":{"text":"Primate","baseline":"top","offset":5.5},"width":428,"height":406,"data":{"name":"pri"},
"encoding":{"x":{"field":"x","type":"quantitative","scale":{"domain":[0,100],"nice":false,"zero":false},"axis":{"title":null,"values":[0,20,40,60,80,100]}}},
"layer":[
{"mark":{"type":"point","shape":"M-1,0L1,0M0,-1L0,1","filled":false,"size":100,"strokeWidth":1.5,"stroke":"#008000","opacity":0.5,"clip":true},"encoding":{"y":{"field":"dn","type":"quantitative","scale":{"domain":[0.8796,1.7803],"nice":false,"zero":false},"axis":{"title":null,"values":[0.9,1.0,1.1,1.2,1.3,1.4,1.5,1.6,1.7],"format":".1f"}}}},
{"mark":{"type":"point","shape":"M-1,0L1,0M0,-1L0,1","filled":false,"size":100,"strokeWidth":1.5,"stroke":"#0000ff","opacity":0.5,"clip":true},"encoding":{"y":{"field":"ds","type":"quantitative","scale":{"domain":[0.8796,1.7803],"nice":false,"zero":false},"axis":{"title":null,"values":[0.9,1.0,1.1,1.2,1.3,1.4,1.5,1.6,1.7],"format":".1f"}}}},
{"transform":[{"filter":"isValid(datum.ln)"}],"mark":{"type":"line","stroke":"#008000","strokeWidth":2.6,"clip":true},"encoding":{"y":{"field":"ln","type":"quantitative","scale":{"domain":[0.8796,1.7803],"nice":false,"zero":false},"axis":{"title":null,"values":[0.9,1.0,1.1,1.2,1.3,1.4,1.5,1.6,1.7],"format":".1f"}}}},
{"transform":[{"filter":"isValid(datum.ls)"}],"mark":{"type":"line","stroke":"#0000ff","strokeWidth":2.6,"clip":true},"encoding":{"y":{"field":"ls","type":"quantitative","scale":{"domain":[0.8796,1.7803],"nice":false,"zero":false},"axis":{"title":null,"values":[0.9,1.0,1.1,1.2,1.3,1.4,1.5,1.6,1.7],"format":".1f"}}}}
]}
],
"config":{
"font":"DejaVu Sans",
"view":{"stroke":"black","strokeWidth":1.4},
"title":{"font":"DejaVu Sans","fontSize":24.5,"fontWeight":"normal","color":"black","anchor":"middle","frame":"group"},
"axis":{"domain":false,"grid":false,"ticks":true,"tickColor":"black","tickWidth":1.4,"tickSize":7,"labelFont":"DejaVu Sans","labelFontSize":18.5,"labelColor":"black","labelFlush":false,"labelOverlap":false,"titleFont":"DejaVu Sans","titleFontSize":24.5,"titleFontWeight":"normal","titleColor":"black"},
"axisX":{"labelPadding":7.5},
"axisY":{"labelPadding":10}
}
}
